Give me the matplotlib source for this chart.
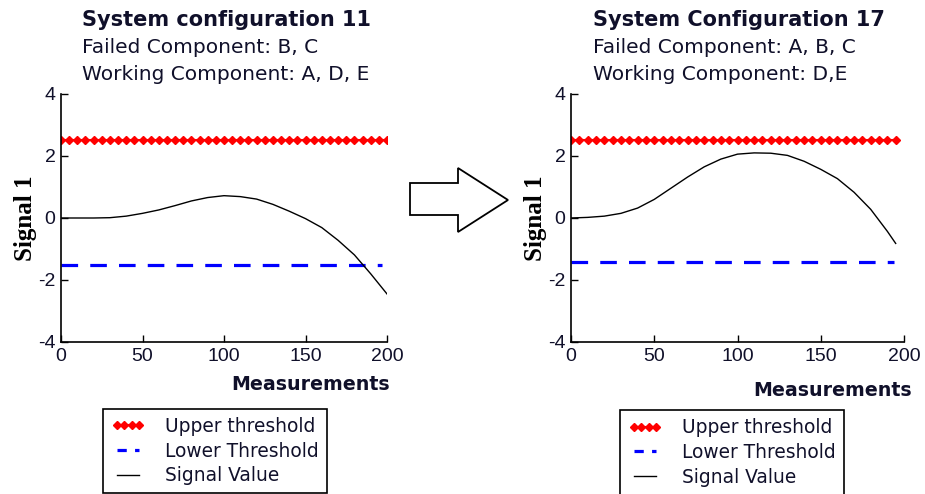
import matplotlib
matplotlib.use("Agg")
import matplotlib.pyplot as plt
from matplotlib.patches import Polygon
from matplotlib.lines import Line2D

plt.rcParams["axes.unicode_minus"] = False

# ---------------- data ----------------
upper_x = list(range(0, 201, 5))
upper_left = [2.5] * len(upper_x)
upper_x_right = list(range(0, 196, 5))
upper_right = [2.5] * len(upper_x_right)

lower_x_left = [0, 197]
lower_left = [-1.52, -1.52]
lower_x_right = [0, 194]
lower_right = [-1.42, -1.42]

sig_x_left = [0, 10, 20, 30, 40, 50, 60, 70, 80, 90, 100, 110, 120, 130, 140,
              150, 160, 170, 180, 190, 200]
sig_left = [0.0, 0.0, 0.0, 0.01, 0.06, 0.15, 0.26, 0.4, 0.55, 0.66, 0.72, 0.69,
            0.61, 0.44, 0.22, -0.02, -0.31, -0.72, -1.19, -1.8, -2.45]

sig_x_right = [0, 10, 20, 30, 40, 50, 60, 70, 80, 90, 100, 110, 120, 130, 140,
               150, 160, 170, 180, 190, 195]
sig_right = [0.0, 0.02, 0.06, 0.15, 0.32, 0.6, 0.96, 1.32, 1.65, 1.9, 2.06, 2.1,
             2.09, 2.02, 1.83, 1.57, 1.27, 0.83, 0.28, -0.43, -0.82]

xticks = [0, 50, 100, 150, 200]
yticks = [-4, -2, 0, 2, 4]

titles = ["System configuration 11", "System Configuration 17"]
failed = ["Failed Component: B, C", "Failed Component: A, B, C"]
working = ["Working Component: A, D, E", "Working Component: D,E"]
labels = ["Upper threshold", "Lower Threshold", "Signal Value"]

# ---------------- figure ----------------
W, H = 925, 494
fig = plt.figure(figsize=(W / 100, H / 100), dpi=100)
fig.patch.set_facecolor("white")

def px(x0, y0, x1, y1):
    return [x0 / W, 1 - y1 / H, (x1 - x0) / W, (y1 - y0) / H]

axes_px = [(61, 94, 387, 342), (571, 94, 904, 342)]
title_x = [82, 593]
xlabel_pos = [(390, 385), (912, 390)]
legend_box = [(100, 410, 330, 492), (617, 411, 847, 494)]

datasets = [
    (upper_x, upper_left, lower_x_left, lower_left, sig_x_left, sig_left),
    (upper_x_right, upper_right, lower_x_right, lower_right, sig_x_right, sig_right),
]

text_color = "#10102a"

for i in range(2):
    ax = fig.add_axes(px(*axes_px[i]))
    ux, uy, lx, ly, sx, sy = datasets[i]
    l1, = ax.plot(ux, uy, color="red", marker="D", markersize=4.2, lw=1.5,
                  label=labels[0])
    ax.plot(lx, ly, color="blue", lw=2.3, dashes=(5.2, 3.8), label=labels[1])
    l3, = ax.plot(sx, sy, color="black", lw=1.0, label=labels[2])
    ax.set_xlim(0, 200)
    ax.set_ylim(-4, 4)
    ax.set_xticks(xticks)
    ax.set_yticks(yticks)
    for s in ["top", "right"]:
        ax.spines[s].set_visible(False)
    for s in ["left", "bottom"]:
        ax.spines[s].set_linewidth(1.2)
    ax.tick_params(direction="in", length=5, width=1.0, labelsize=14,
                   labelcolor=text_color, pad=4)
    for t in ax.get_xticklabels() + ax.get_yticklabels():
        t.set_fontfamily("Liberation Sans")
    ax.set_ylabel("Signal 1", fontfamily="Liberation Serif", fontweight="bold",
                  fontsize=18, color="black", labelpad=1)

    # x label
    xp, yp = xlabel_pos[i]
    fig.text(xp / W, 1 - yp / H, "Measurements", ha="right", va="center",
             fontsize=13.7, fontweight="bold", color=text_color,
             fontfamily="DejaVu Sans")

    # titles
    tx = title_x[i] / W
    fig.text(tx, 1 - 26 / H, titles[i], ha="left", va="baseline",
             fontsize=15, fontweight="bold", color=text_color)
    fig.text(tx, 1 - 53 / H, failed[i], ha="left", va="baseline",
             fontsize=14.5, color=text_color)
    fig.text(tx, 1 - 80 / H, working[i], ha="left", va="baseline",
             fontsize=14.5, color=text_color)

    # legend (proxy handle for the dashed line so it shows two dashes)
    l2h = Line2D([], [], color="blue", lw=2.3, dashes=(2.9, 2.6))
    bx0, by0, bx1, by1 = legend_box[i]
    leg = fig.legend(handles=[l1, l2h, l3], labels=labels,
                     loc="center", bbox_to_anchor=((bx0 + bx1) / 2 / W,
                                                    1 - (by0 + by1) / 2 / H),
                     frameon=True, fancybox=False, framealpha=1,
                     edgecolor="black", fontsize=13.4, numpoints=4,
                     handlelength=1.8, handletextpad=1.1, labelspacing=0.3,
                     borderpad=0.45, borderaxespad=0)
    leg.get_frame().set_linewidth(1.2)
    for t in leg.get_texts():
        t.set_color(text_color)

# block arrow between the panels
pts = [(410, 183), (458, 183), (458, 168), (508, 200), (458, 232),
       (458, 215), (410, 215)]
poly = Polygon([(x / W, 1 - y / H) for x, y in pts], closed=True,
               transform=fig.transFigure, facecolor="white",
               edgecolor="black", lw=1.3)
fig.patches.append(poly)

fig.savefig("out.png", dpi=100)
